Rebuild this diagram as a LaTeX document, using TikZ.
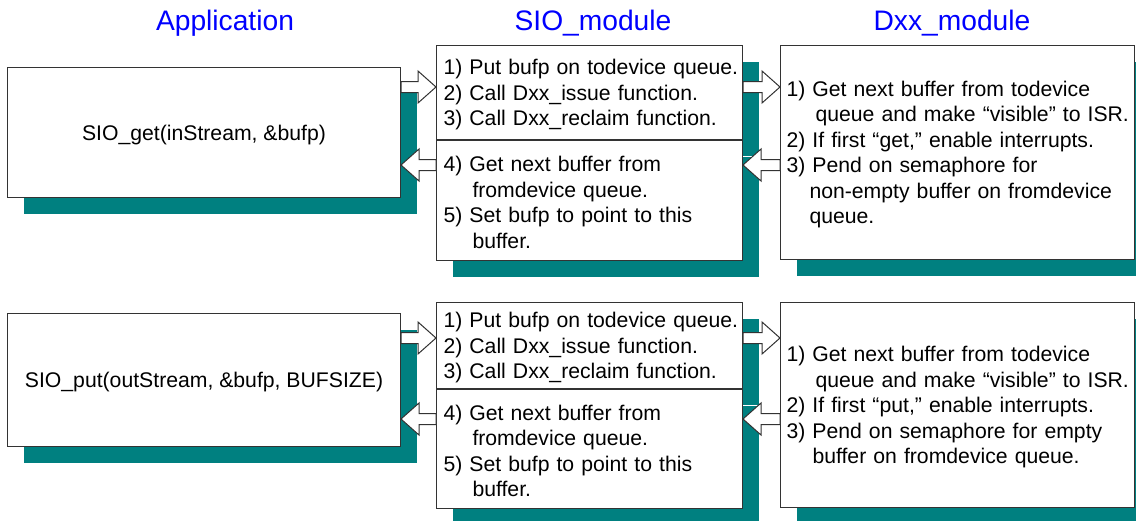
\documentclass[tikz,border=0pt]{standalone}
\usepackage{fontspec}
\setmainfont{Liberation Sans}
\usetikzlibrary{positioning,calc,shadows}
\definecolor{shadowteal}{HTML}{008080}
\definecolor{titleblue}{HTML}{0000FF}
\definecolor{edgegray}{HTML}{333333}
\newcommand{\boxfont}{\fontsize{10.6pt}{12.75pt}\selectfont}
\newcommand{\headfont}{\fontsize{14.1pt}{17pt}\selectfont}
\tikzset{
  box style/.style={rectangle, draw=edgegray, line width=0.5pt, fill=white,
    font=\boxfont, inner ysep=0pt,
    execute at begin node={\noindent\rule{0pt}{9.8pt}},
    drop shadow={shadow xshift=8pt, shadow yshift=-8pt, fill=shadowteal, opacity=1}},
  app style/.style={box style, align=center, minimum width=196.5pt},
  sio style/.style={box style, align=left, text width=146pt, inner xsep=3.5pt, minimum width=153pt},
  dxx style/.style={box style, align=left, text width=171pt, inner xsep=3pt, minimum width=177pt},
  head style/.style={font=\headfont, text=titleblue, anchor=base},
  blk arr/.style={draw=edgegray, fill=white, line width=0.5pt,
    to path={let \p1=(\tikztostart), \p2=(\tikztotarget),
      \p3=($(\tikztotarget)!9pt!(\tikztostart)$) in
      (\x1,\y1+2.75pt) -- (\x3,\y1+2.75pt) -- (\x3,\y1+8pt) -- (\x2,\y2)
      -- (\x3,\y1-8pt) -- (\x3,\y1-2.75pt) -- (\x1,\y1-2.75pt) -- cycle}}
}

\begin{document}
\begin{tikzpicture}[x=1pt, y=1pt, node distance=0pt]
\useasboundingbox (0,0) rectangle (568,-260);
% column headings
\node[head style] (hApp) at (112.5,-15) {Application};
\node[head style] (hSio) at (296.5,-15) {SIO\_module};
\node[head style] (hDxx) at (476,-15) {Dxx\_module};
% SIO_get row
\node[app style, minimum height=65pt, anchor=north west] (app1) at (3.5,-33.5)
  {SIO\_get(inStream, \&bufp)};
\node[sio style, minimum height=47pt, anchor=north west] (sio1a) at (218,-22.5)
  {\mbox{1) Put bufp on todevice queue.}\\2) Call Dxx\_issue function.\\3) Call Dxx\_reclaim function.};
\node[sio style, minimum height=60pt, below=of sio1a] (sio1b)
  {4) Get next buffer from\\\hspace*{14.5pt}fromdevice queue.\\5) Set bufp to point to this\\\hspace*{14.5pt}buffer.};
\node[dxx style, minimum height=107pt, right=18.5pt of sio1a.north east, anchor=north west] (dxx1)
  {1) Get next buffer from todevice\\\hspace*{14.5pt}\mbox{queue and make “visible” to ISR.}\\2) If first “get,” enable interrupts.\\3) Pend on semaphore for\\\hspace*{11.5pt}non-empty buffer on fromdevice\\\hspace*{11.5pt}queue.};
\coordinate (g1) at (0,-43.5);
\coordinate (g2) at (0,-82.5);
\draw[blk arr] (app1.east |- g1) to (sio1a.west |- g1);
\draw[blk arr] (sio1b.west |- g2) to (app1.east |- g2);
\draw[blk arr] (sio1a.east |- g1) to (dxx1.west |- g1);
\draw[blk arr] (dxx1.west |- g2) to (sio1b.east |- g2);
% SIO_put row
\node[app style, minimum height=66.5pt, anchor=north west] (app2) at (3.5,-156.5)
  {SIO\_put(outStream, \&bufp, BUFSIZE)};
\node[sio style, minimum height=43pt, anchor=north west] (sio2a) at (218,-151)
  {\mbox{1) Put bufp on todevice queue.}\\2) Call Dxx\_issue function.\\3) Call Dxx\_reclaim function.};
\node[sio style, minimum height=59.5pt, below=of sio2a] (sio2b)
  {4) Get next buffer from\\\hspace*{14.5pt}fromdevice queue.\\5) Set bufp to point to this\\\hspace*{14.5pt}buffer.};
\node[dxx style, minimum height=102.5pt, right=18.5pt of sio2a.north east, anchor=north west] (dxx2)
  {1) Get next buffer from todevice\\\hspace*{14.5pt}\mbox{queue and make “visible” to ISR.}\\2) If first “put,” enable interrupts.\\3) Pend on semaphore for empty\\\hspace*{13pt}buffer on fromdevice queue.};
\coordinate (p1) at (0,-169);
\coordinate (p2) at (0,-209.5);
\draw[blk arr] (app2.east |- p1) to (sio2a.west |- p1);
\draw[blk arr] (sio2b.west |- p2) to (app2.east |- p2);
\draw[blk arr] (sio2a.east |- p1) to (dxx2.west |- p1);
\draw[blk arr] (dxx2.west |- p2) to (sio2b.east |- p2);
\end{tikzpicture}
\end{document}
